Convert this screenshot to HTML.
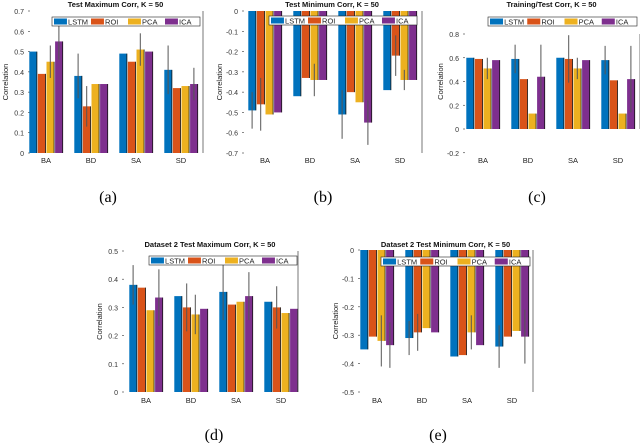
<!DOCTYPE html>
<html><head><meta charset="utf-8"><style>
html,body{margin:0;padding:0;background:#fff;}
svg{display:block;font-family:"Liberation Sans",sans-serif;}
.cap{font-family:"Liberation Serif",serif;font-size:16px;}
</style></head><body>
<svg id="fig" width="640" height="443" viewBox="0 0 640 443">
<text class="cap" x="108" y="202" text-anchor="middle">(a)</text>
<text class="cap" x="323" y="202" text-anchor="middle">(b)</text>
<text class="cap" x="537" y="202" text-anchor="middle">(c)</text>
<text class="cap" x="214" y="440" text-anchor="middle">(d)</text>
<text class="cap" x="438" y="440" text-anchor="middle">(e)</text>
</svg>
<script>
const categories = ["BA","BD","SA","SD"];
const seriesNames = ["LSTM","ROI","PCA","ICA"];
const valsA = [[0.50,0.38,0.49,0.41],[0.39,0.23,0.45,0.32],[0.45,0.34,0.51,0.33],[0.55,0.34,0.50,0.34]];
const errA  = [[0,0.11,0,0.12],[0,0.1,0,0],[0.08,0,0.08,0],[0.09,0,0,0.08]];
const valsB = [[-0.49,-0.42,-0.51,-0.39],[-0.46,-0.33,-0.40,-0.22],[-0.51,-0.34,-0.45,-0.34],[-0.50,-0.34,-0.55,-0.34]];
const errB  = [[0.09,0,0.12,0],[0.13,0,0,0.1],[0,0.08,0,0.05],[0,0,0.11,0]];
const valsC = [[0.60,0.59,0.60,0.58],[0.59,0.42,0.59,0.41],[0.51,0.13,0.51,0.13],[0.58,0.44,0.58,0.42]];
const errC  = [[0,0.12,0,0.12],[0,0,0.2,0],[0.09,0,0.09,0],[0,0.27,0,0.28]];
const valsD = [[0.38,0.34,0.355,0.32],[0.37,0.30,0.31,0.30],[0.29,0.275,0.32,0.28],[0.335,0.295,0.34,0.295]];
const errD  = [[0.07,0,0.1,0],[0,0.085,0,0.075],[0,0.07,0,0],[0.1,0,0.085,0]];
const valsE = [[-0.35,-0.31,-0.375,-0.34],[-0.305,-0.29,-0.37,-0.305],[-0.32,-0.275,-0.29,-0.285],[-0.335,-0.29,-0.335,-0.305]];
const errE  = [[0,0.06,0,0.075],[0,0.065,0,0],[0.09,0,0.06,0],[0.08,0,0,0.095]];
const ticksA=[0,0.1,0.2,0.3,0.4,0.5,0.6,0.7];
const ticksB=[0,-0.1,-0.2,-0.3,-0.4,-0.5,-0.6,-0.7];
const ticksC=[-0.2,0,0.2,0.4,0.6,0.8];
const ticksD=[0,0.1,0.2,0.3,0.4,0.5];
const ticksE=[0,-0.1,-0.2,-0.3,-0.4,-0.5];
const colors=["#0072BD","#D95319","#EDB120","#7E2F8E"];
const NS="http://www.w3.org/2000/svg";
const svg=document.getElementById('fig');
function mk(tag,attrs,parent){const e=document.createElementNS(NS,tag);for(const k in attrs)e.setAttribute(k,attrs[k]);(parent||svg).appendChild(e);return e;}
function panel(id,title,vals,errs,ticks,g){
  const grp=mk('g',{});
  
  
  const y=v=>g.y0+(v-g.v0)*(g.y1-g.y0)/(g.v1-g.v0);
  const x0=g.xL, x1=g.xR;
  ticks.forEach(t=>{
    const tl=mk('text',{x:x0-4,y:y(t)+3,'text-anchor':'end','font-size':7,fill:'#333'},grp);
    tl.textContent=(t===0?'0':String(t));
    
    
    mk('line',{x1:x0,x2:x0+2,y1:y(t),y2:y(t),stroke:'#333','stroke-width':0.6},grp);
  });
  const yl=mk('text',{x:0,y:0,transform:`translate(${x0-20},${(g.y0+g.y1)/2}) rotate(-90)`,'text-anchor':'middle','font-size':7.5,fill:'#222'},grp);
  yl.textContent='Correlation';
  
  
  const tt=mk('text',{x:(x0+x1)/2,y:g.ty,'text-anchor':'middle','font-size':7.5,'font-weight':'bold',fill:'#111'},grp);
  tt.textContent=title;
  
  
  const bw=7.6, step=8.6;
  categories.forEach((c,ci)=>{
    const cx=g.c0+ci*g.gs;
    const cl=mk('text',{x:cx,y:g.xly,'text-anchor':'middle','font-size':7.5,fill:'#222'},grp);
    cl.textContent=c;
    
    
    vals.forEach((s,si)=>{
      const v=s[ci];const bx=cx+(si-1.5)*step-bw/2;
      const ya=y(0),yb=y(v);
      const r=mk('rect',{x:bx,y:Math.min(ya,yb),width:bw,height:Math.abs(yb-ya),fill:colors[si]},grp);
      
      
      mk('line',{x1:bx+bw,x2:bx+bw,y1:ya,y2:yb,stroke:'#111','stroke-width':0.8},grp);
      const e=errs[si][ci];
      if(e){mk('line',{x1:bx+bw/2,x2:bx+bw/2,y1:y(v-e),y2:y(v+e),stroke:'#555','stroke-width':1},grp);}
    });
  });
  mk('line',{x1:x1,x2:x1,y1:g.y0,y2:g.y1,stroke:'#555','stroke-width':0.8},grp);
  const lg=mk('g',{},grp);
  
  
  mk('rect',{x:g.lx,y:g.ly,width:g.lw,height:9,fill:'#fff',stroke:'#222','stroke-width':0.6},lg);
  const ew=g.lw/4;
  seriesNames.forEach((n,i)=>{
    const ex=g.lx+i*ew+2;
    const sw=mk('rect',{x:ex,y:g.ly+1.5,width:ew*0.35,height:6,fill:colors[i]},lg);
    
    
    const lt=mk('text',{x:ex+ew*0.38,y:g.ly+7.5,'font-size':7.5,fill:'#222'},lg);
    lt.textContent=n;
    
    
  });
}
panel('a','Test Maximum Corr, K = 50',valsA,errA,ticksA,{xL:28,xR:203,y0:153,y1:11,v0:0,v1:0.7,c0:46,gs:45,xly:163,ty:7,lx:52,ly:17,lw:148});
panel('b','Test Minimum Corr, K = 50',valsB,errB,ticksB,{xL:242,xR:422,y0:11,y1:153,v0:0,v1:-0.7,c0:265,gs:45,xly:163,ty:7,lx:269,ly:16,lw:148});
panel('c','Training/Test Corr, K = 50',valsC,errC,ticksC,{xL:463,xR:640,y0:129,y1:34,v0:0,v1:0.8,c0:483,gs:45,xly:163,ty:7,lx:488,ly:17,lw:149});
panel('d','Dataset 2 Test Maximum Corr, K = 50',valsD,errD,ticksD,{xL:122,xR:298,y0:392,y1:251,v0:0,v1:0.5,c0:146,gs:45,xly:403,ty:247,lx:149,ly:256,lw:148});
panel('e','Dataset 2 Test Minimum Corr, K = 50',valsE,errE,ticksE,{xL:358,xR:533,y0:250,y1:392,v0:0,v1:-0.5,c0:377,gs:45,xly:403,ty:247,lx:381,ly:257,lw:149});
</script>
</body></html>
